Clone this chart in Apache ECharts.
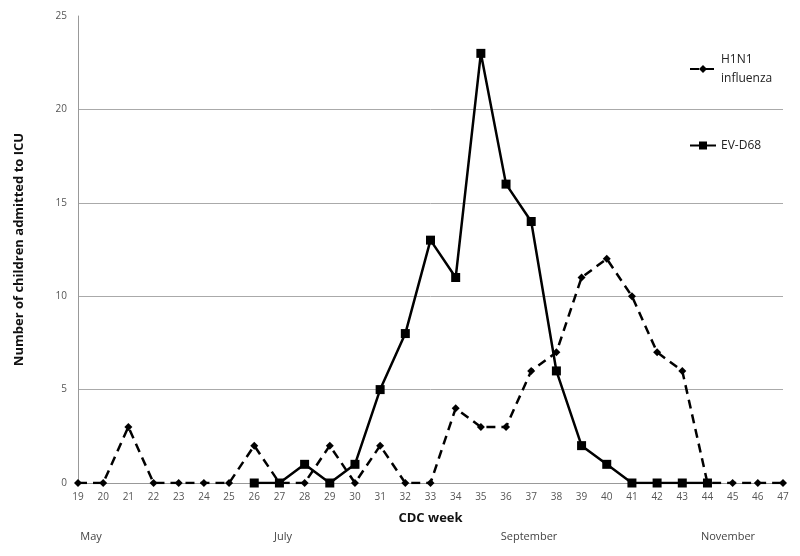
<!DOCTYPE html>
<html>
<head>
<meta charset="utf-8">
<script src="https://cdn.jsdelivr.net/npm/echarts@6/dist/echarts.min.js"></script>
<style>
  html, body { margin: 0; padding: 0; background: #fff; }
</style>
</head>
<body>
<div id="chart" style="width: 800px; height: 556px;"></div>
<script>
// CDC weeks on the x axis
var weeks = ['19', '20', '21', '22', '23', '24', '25', '26', '27', '28', '29', '30', '31', '32', '33',
  '34', '35', '36', '37', '38', '39', '40', '41', '42', '43', '44', '45', '46', '47'];

// children admitted to ICU per week
var h1n1 = [0, 0, 3, 0, 0, 0, 0, 2, 0, 0, 2, 0, 2, 0, 0,
  4, 3, 3, 6, 7, 11, 12, 10, 7, 6, 0, 0, 0, 0];
var evd68 = [null, null, null, null, null, null, null, 0, 0, 1, 0, 1, 5, 8, 13,
  11, 23, 16, 14, 6, 2, 1, 0, 0, 0, 0, null, null, null];

var yTicks = [0, 5, 10, 15, 20, 25];
var months = ['May', 'July', 'September', 'November'];

var chart = echarts.init(document.getElementById('chart'));

var font = 'Open Sans';
var monthX = [91, 283, 529, 728];
var graphics = [];
for (var i = 0; i < months.length; i++) {
  graphics.push({
    type: 'text',
    x: monthX[i],
    y: 537,
    style: {
      text: months[i],
      font: '11px "' + font + '"',
      fill: '#444',
      align: 'center',
      verticalAlign: 'middle'
    }
  });
}

var option = {
  animation: false,
  textStyle: { fontFamily: font },
  grid: { left: 78, right: 17, top: 16, bottom: 73 },
  legend: {
    orient: 'vertical',
    left: 684,
    top: 45,
    itemGap: 48,
    itemWidth: 26,
    itemHeight: 10,
    textStyle: { fontSize: 12, color: '#222', lineHeight: 19, fontFamily: font },
    data: ['H1N1 influenza', 'EV-D68'],
    formatter: function (name) {
      return name === 'H1N1 influenza' ? 'H1N1\ninfluenza' : name;
    }
  },
  xAxis: {
    type: 'category',
    data: weeks,
    boundaryGap: false,
    name: 'CDC week',
    nameLocation: 'middle',
    nameGap: 29,
    nameTextStyle: { fontSize: 13, fontWeight: 'bold', color: '#111', fontFamily: font },
    axisLine: { lineStyle: { color: '#999', width: 1 } },
    axisTick: { show: false },
    axisLabel: { fontSize: 10, color: '#555', margin: 9 },
    splitLine: { show: false }
  },
  yAxis: {
    type: 'value',
    min: 0,
    max: 25,
    interval: 5,
    name: 'Number of children admitted to ICU',
    nameLocation: 'middle',
    nameGap: 52,
    nameTextStyle: { fontSize: 13, fontWeight: 'bold', color: '#111', fontFamily: font },
    axisLine: { show: true, lineStyle: { color: '#999', width: 1 } },
    axisTick: { show: false },
    axisLabel: { fontSize: 10, color: '#555', margin: 11 },
    splitLine: { show: true, showMaxLine: false, lineStyle: { color: '#aaa', width: 1 } }
  },
  graphic: graphics,
  series: [
    {
      name: 'H1N1 influenza',
      type: 'line',
      data: h1n1,
      symbol: 'diamond',
      symbolSize: 8,
      color: '#000',
      lineStyle: { width: 2.5, type: [9, 6], color: '#000' },
      itemStyle: { color: '#000' },
      z: 3
    },
    {
      name: 'EV-D68',
      type: 'line',
      data: evd68,
      symbol: 'rect',
      symbolSize: 9,
      color: '#000',
      lineStyle: { width: 2.5, color: '#000' },
      itemStyle: { color: '#000' },
      z: 4
    }
  ]
};

chart.setOption(option);
</script>
</body>
</html>
